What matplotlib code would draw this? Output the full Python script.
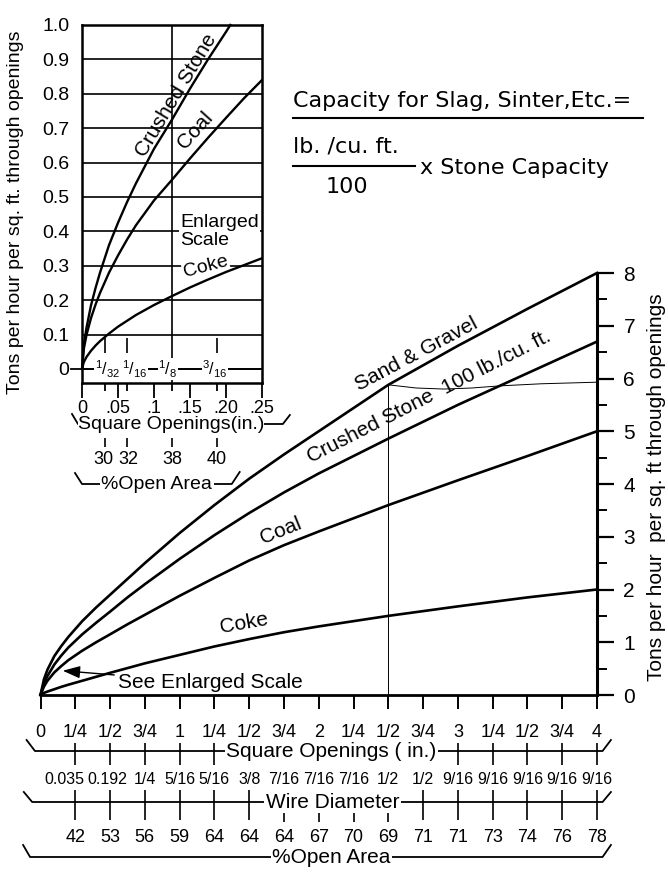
import numpy as np
import matplotlib
matplotlib.use('Agg')
import matplotlib.pyplot as plt
from matplotlib.lines import Line2D
from matplotlib.transforms import blended_transform_factory as blend

W, H = 668, 872
REG = ['Liberation Sans', 'DejaVu Sans']
WIDE = ['DejaVu Sans']
plt.rcParams['font.family'] = REG
plt.rcParams['mathtext.fontset'] = 'custom'
plt.rcParams['mathtext.rm'] = 'Liberation Sans'
plt.rcParams['mathtext.it'] = 'Liberation Sans'

# ---- main chart: tons/hr per sq ft vs square opening (in.) ----
opening = [0, 0.025, 0.05, 0.1, 0.15, 0.2, 0.3, 0.4, 0.5, 0.625, 0.75, 1, 1.25, 1.5, 1.75, 2, 2.5, 3, 3.5, 4]
sand_gravel = [0, 0.3, 0.48, 0.74, 0.93, 1.1, 1.4, 1.66, 1.9, 2.2, 2.5, 3.07, 3.6, 4.1, 4.56, 5.0, 5.88, 6.62, 7.32, 8.0]
crushed_stone = [0, 0.22, 0.36, 0.58, 0.75, 0.9, 1.15, 1.37, 1.58, 1.85, 2.1, 2.58, 3.03, 3.45, 3.84, 4.2, 4.86, 5.5, 6.1, 6.7]
coal = [0, 0.16, 0.27, 0.43, 0.55, 0.66, 0.84, 1.0, 1.15, 1.34, 1.52, 1.88, 2.22, 2.55, 2.84, 3.1, 3.6, 4.07, 4.53, 5.0]
coke = [0, 0.04, 0.065, 0.11, 0.155, 0.195, 0.27, 0.345, 0.42, 0.51, 0.6, 0.76, 0.92, 1.06, 1.19, 1.3, 1.5, 1.68, 1.85, 2.0]

open_ticks = [0, 0.25, 0.5, 0.75, 1, 1.25, 1.5, 1.75, 2, 2.25, 2.5, 2.75, 3, 3.25, 3.5, 3.75, 4]
open_labels = ['0', '1/4', '1/2', '3/4', '1', '1/4', '1/2', '3/4', '2',
               '1/4', '1/2', '3/4', '3', '1/4', '1/2', '3/4', '4']
wire_diam = ['0.035', '0.192', '1/4', '5/16', '5/16', '3/8', '7/16', '7/16',
             '7/16', '1/2', '1/2', '9/16', '9/16', '9/16', '9/16', '9/16']
open_area = [42, 53, 56, 59, 64, 64, 64, 67, 70, 69, 71, 71, 73, 74, 76, 78]

# hand-drawn reading guide at 2 1/2 in.
guide_x = [2.5, 2.7, 2.9, 3.1, 3.3, 3.6, 4.0]
guide_y = [5.88, 5.82, 5.8, 5.82, 5.86, 5.9, 5.93]

# ---- enlarged scale inset ----
in_x = [0, 0.0025, 0.00625, 0.0125, 0.01875, 0.025, 0.0375, 0.05, 0.0625, 0.075,
        0.1, 0.125, 0.15, 0.175, 0.2, 0.225, 0.25]
in_stone_x = [0, 0.0025, 0.00625, 0.0125, 0.01875, 0.025, 0.0375, 0.05, 0.0625, 0.075,
              0.1, 0.125, 0.15, 0.175, 0.2, 0.206]
in_stone = [0, 0.07, 0.12, 0.185, 0.235, 0.28, 0.36, 0.425, 0.485, 0.54,
            0.64, 0.725, 0.815, 0.9, 0.98, 1.0]
in_coal = [0, 0.058, 0.099, 0.148, 0.187, 0.221, 0.28, 0.33, 0.376, 0.418,
           0.49, 0.55, 0.612, 0.672, 0.73, 0.787, 0.84]
in_coke = [0, 0.02, 0.035, 0.053, 0.068, 0.081, 0.103, 0.123, 0.14, 0.157,
           0.186, 0.212, 0.237, 0.26, 0.282, 0.302, 0.322]
in_ticks = [0, 0.05, 0.1, 0.15, 0.2, 0.25]
in_tick_labels = ['0', '.05', '.1', '.15', '.20', '.25']
in_frac_pos = [1 / 32, 1 / 16, 1 / 8, 3 / 16]
in_frac_labels = [r'$^{1}/_{32}$', r'$^{1}/_{16}$', r'$^{1}/_{8}$', r'$^{3}/_{16}$']
in_open_area = [30, 32, 38, 40]

fig = plt.figure(figsize=(W / 100, H / 100), dpi=100)
fx = lambda px: px / W
fy = lambda py: 1 - py / H
K = 'black'


def bracket(axis, x0, x1, ypx, dx0, dx1, up0, up1):
    t = blend(axis.transData, fig.transFigure)
    axis.add_line(Line2D([x0 - dx0, x0, x1, x1 + dx1],
                         [fy(ypx - up0), fy(ypx), fy(ypx), fy(ypx - up1)],
                         transform=t, color=K, lw=1.3, clip_on=False))


def row_text(axis, x, ypx, s, pad=1.0, **kw):
    t = blend(axis.transData, fig.transFigure)
    axis.text(x, fy(ypx), s, transform=t, ha='center', va='center',
              bbox=dict(fc='white', ec='none', pad=pad), **kw)


# ═══ main chart ═══
ax = fig.add_axes([fx(40.5), fy(695), (597 - 40.5) / W, (695 - 273) / H])
ax.set_facecolor('none')
ax.set_xlim(0, 4)
ax.set_ylim(0, 8)
for s in ('left', 'top'):
    ax.spines[s].set_visible(False)
ax.spines['bottom'].set_linewidth(2)
ax.spines['right'].set_linewidth(2.2)
ax.yaxis.tick_right()
ax.yaxis.set_label_position('right')
ax.set_yticks(range(9))
ax.set_yticks(np.arange(0.5, 8, 1), minor=True)
ax.tick_params(axis='y', which='major', length=12, width=1.6, pad=7, labelsize=15)
ax.tick_params(axis='y', which='minor', length=7, width=1.4)
ax.set_xticks(open_ticks, open_labels)
ax.tick_params(axis='x', length=10, width=1.4, pad=11, labelsize=13)
ax.set_ylabel('Tons per hour  per sq. ft through openings', fontsize=15)
ax.yaxis.set_label_coords((647 - 40.5) / 556.5, (695 - 487) / 422)

for ys in (sand_gravel, crushed_stone, coal, coke):
    ax.plot(opening, ys, color=K, lw=1.9, clip_on=False, zorder=3)
ax.vlines(guide_x[0], 0, guide_y[0], color=K, lw=0.7)
ax.plot(guide_x, guide_y, color=K, lw=0.7)

ax.text(2.70, 6.46, 'Sand & Gravel', rotation=28, ha='center', va='center', fontsize=15)
ax.text(2.79, 5.66, 'Crushed Stone  100 lb./cu. ft.', rotation=27, ha='center', va='center', fontsize=15)
ax.text(1.73, 3.11, 'Coal', rotation=22, ha='center', va='center', fontsize=15)
ax.text(1.46, 1.35, 'Coke', rotation=10, ha='center', va='center', fontsize=15)
ax.annotate('See Enlarged Scale', xy=(0.16, 0.46), xytext=(0.56, 0.23),
            ha='left', va='center', fontsize=15,
            arrowprops=dict(arrowstyle='-|>,head_length=0.7,head_width=0.25',
                            color=K, lw=1, shrinkA=1, shrinkB=0))

# scales under the main chart
tm = blend(ax.transData, fig.transFigure)
bracket(ax, -0.04, 4.04, 751, 0.06, 0.06, 11, 11)
ax.vlines([0.25, 0.5, 0.75, 1, 1.25, 3, 3.25, 3.5, 3.75, 4], fy(765), fy(743),
          transform=tm, color=K, lw=1.2, clip_on=False)
row_text(ax, 2.09, 751, 'Square Openings ( in.)', fontsize=15)
wire_shift = [-0.08, -0.02] + [0] * 14
for x, dx, s in zip(open_ticks[1:], wire_shift, wire_diam):
    ax.text(x + dx, fy(779), s, transform=tm, ha='center', va='center', fontsize=11.5)

bracket(ax, -0.06, 4.04, 802, 0.06, 0.06, 10, 10)
ax.vlines([0.25, 0.5, 0.75, 1, 1.25, 1.5, 2.75, 3, 3.25, 3.5, 3.75, 4], fy(820), fy(790),
          transform=tm, color=K, lw=1.2, clip_on=False)
ax.vlines([1.75, 2, 2.25, 2.5], fy(822), fy(812), transform=tm, color=K, lw=1.2, clip_on=False)
row_text(ax, 2.1, 802, 'Wire Diameter', fontsize=15)
for x, v in zip(open_ticks[1:], open_area):
    ax.text(x, fy(837), str(v), transform=tm, ha='center', va='center', fontsize=13)

bracket(ax, -0.075, 4.04, 857, 0.05, 0.06, 12, 12)
row_text(ax, 2.09, 857, '%Open Area', fontsize=15)

# ═══ enlarged scale inset ═══
axin = fig.add_axes([fx(82), fy(383), 180 / W, (383 - 25) / H])
axin.set_xlim(0, 0.25)
axin.set_ylim(-0.0407, 1.0)
for s in axin.spines.values():
    s.set_linewidth(1.8)
axin.set_yticks(np.round(np.arange(0, 1.01, 0.1), 1),
                ['0', '0.1', '0.2', '0.3', '0.4', '0.5', '0.6', '0.7', '0.8', '0.9', '1.0'])
axin.tick_params(axis='y', length=0, pad=9, labelsize=14)
axin.grid(axis='y', color=K, lw=1.2, zorder=1)
axin.axvline(1 / 8, color=K, lw=1.2, zorder=1)
axin.plot([-0.015, 0.25], [0, 0], color=K, lw=1.3, clip_on=False, zorder=1)
axin.set_xticks(in_ticks, in_tick_labels)
axin.set_xticks(in_frac_pos, minor=True)
axin.tick_params(axis='x', which='major', length=11, width=1.3, pad=1, labelsize=13)
axin.tick_params(axis='x', which='minor', length=6, width=1.3)
axin.set_ylabel('Tons per hour per sq. ft. through openings', fontsize=14)
axin.yaxis.set_label_coords((24 - 82) / 180, (383 - 212) / 358)

axin.plot(in_stone_x, in_stone, color=K, lw=1.7, zorder=3, clip_on=False)
axin.plot(in_x, in_coal, color=K, lw=1.7, zorder=3)
axin.plot(in_x, in_coke, color=K, lw=1.7, zorder=3)

axin.vlines([1 / 32, 1 / 16, 3 / 16], 0.0465, 0.09, color=K, lw=1.2)
frac_shift = [0.004, 0.0105, -0.0056, -0.003]
for x, dx, s in zip(in_frac_pos, frac_shift, in_frac_labels):
    axin.text(x + dx, 0, s, ha='center', va='center', fontsize=11.5, zorder=2,
              bbox=dict(fc='white', ec='none', pad=0.3))

axin.text(0.1315, 0.797, 'Crushed Stone', rotation=59, ha='center', va='center', fontsize=15, zorder=2)
axin.text(0.157, 0.695, 'Coal', rotation=48, ha='center', va='center', fontsize=15, zorder=2)
axin.text(0.136, 0.40, 'Enlarged\nScale', ha='left', va='center', fontsize=14, zorder=2,
          linespacing=1.1, bbox=dict(fc='white', ec='none', pad=1))
axin.text(0.172, 0.2965, 'Coke', rotation=15, ha='center', va='center', fontsize=14, zorder=2,
          bbox=dict(fc='white', ec='none', pad=0.5))

ti = blend(axin.transData, fig.transFigure)
bracket(axin, -0.0056, 0.279, 424, 0.0083, 0.0097, 10, 9)
row_text(axin, 0.1236, 424, 'Square Openings(in.)', pad=0.2, fontsize=14)
axin.vlines(in_frac_pos, fy(447), fy(438), transform=ti, color=K, lw=1.2, clip_on=False)
open_shift = [-0.002, 0.0015, 0, 0]
for x, dx, v in zip(in_frac_pos, open_shift, in_open_area):
    axin.text(x + dx, fy(460), str(v), transform=ti, ha='center', va='center', fontsize=13)
bracket(axin, 0, 0.208, 484, 0.0097, 0.011, 11, 12)
row_text(axin, 0.104, 484, '%Open Area', fontsize=14)

# ═══ conversion note ═══
fig.text(fx(293), fy(101), 'Capacity for Slag, Sinter,Etc.=', ha='left', va='center', fontsize=16, family=WIDE)
fig.add_artist(Line2D([fx(293), fx(643)], [fy(118), fy(118)], color=K, lw=1.5))
fig.text(fx(293), fy(146), 'lb. /cu. ft.', ha='left', va='center', fontsize=16, family=WIDE)
fig.add_artist(Line2D([fx(293), fx(415)], [fy(166), fy(166)], color=K, lw=1.5))
fig.text(fx(347), fy(187), '100', ha='center', va='center', fontsize=16, family=WIDE)
fig.text(fx(420), fy(168), 'x Stone Capacity', ha='left', va='center', fontsize=16, family=WIDE)

fig.savefig('out.png', dpi=100, facecolor='white')
